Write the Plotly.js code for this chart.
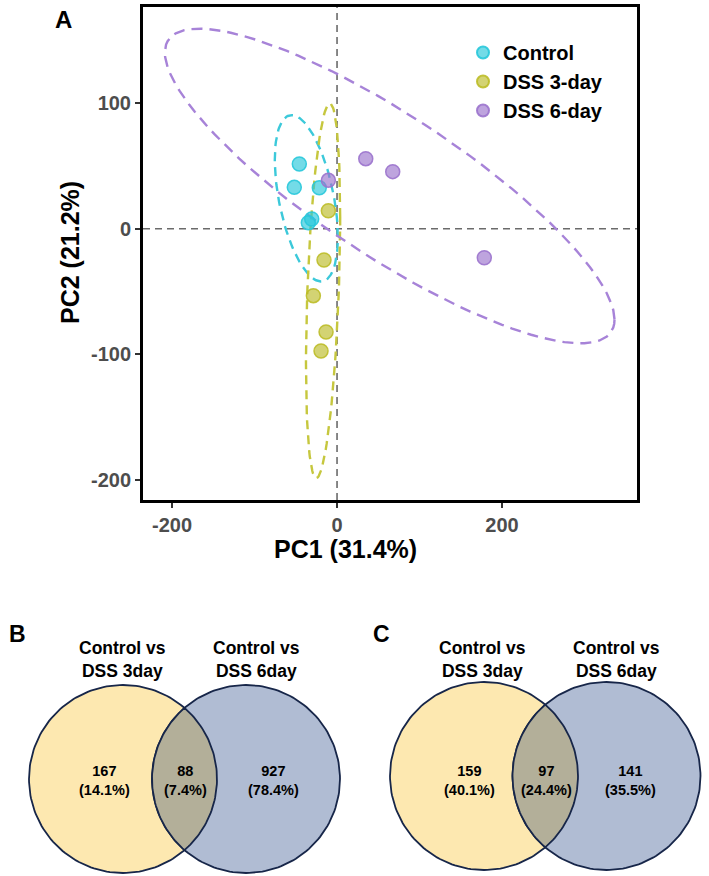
<!DOCTYPE html>
<html><head><meta charset="utf-8">
<script src="https://cdn.plot.ly/plotly-3.0.1.min.js"></script>
<style>html,body{margin:0;padding:0;background:#fff}#chart{width:709px;height:876px}</style>
</head><body><div id="chart"></div>
<script>
// ---- Panel A data (PCA scores) ----
const groups = ['Control', 'DSS 3-day', 'DSS 6-day'];
const controlPC1 = [-45.7, -51.8, -21.5, -30.7, -34.8];
const controlPC2 = [51.5, 32.9, 32.6, 7.7, 4.8];
const dss3PC1 = [-10.5, -15.8, -28.7, -13.3, -19.4];
const dss3PC2 = [14.3, -24.9, -53.3, -82.2, -97.3];
const dss6PC1 = [34.8, 67.5, -10.5, 178.5];
const dss6PC2 = [55.7, 45.4, 38.5, -23.1];
const xTicks = [-200, 0, 200];
const xTickLabels = ['-200', '0', '200'];
const yTicks = [-200, -100, 0, 100];
const yTickLabels = ['-200', '-100', '0', '100'];
const xTitle = 'PC1 (31.4%)';
const yTitle = 'PC2 (21.2%)';

// ---- Panels B and C data (Venn counts) ----
const vennSetLabels = ['Control vs<br>DSS 3day', 'Control vs<br>DSS 6day'];
const vennBCounts = [167, 88, 927];
const vennBPct = ['14.1%', '7.4%', '78.4%'];
const vennCCounts = [159, 97, 141];
const vennCPct = ['40.1%', '24.4%', '35.5%'];

// ---- styles ----
const W = 709, H = 876;
const FONT = 'Liberation Sans, Arial, Helvetica, sans-serif';
const pointFill = ['rgba(40,200,218,0.65)', 'rgba(188,188,40,0.65)', 'rgba(155,115,205,0.65)'];
const pointLine = ['rgba(40,200,218,0.9)', 'rgba(188,188,40,0.9)', 'rgba(155,115,205,0.9)'];
const ellColor = ['#3CC9DA', '#C6C73E', '#A783D8'];

// ggplot2 stat_ellipse (type "t"): MASS::cov.trob + F-based radius
function covTrob(xs, ys, nu, maxit, tol) {
  nu = nu || 5; maxit = maxit || 25; tol = tol || 0.01;
  const n = xs.length, p = 2;
  const sum = a => a.reduce((s, v) => s + v, 0);
  let loc = [sum(xs) / n, sum(ys) / n];
  let w = xs.map(() => 1);
  let X = [];
  for (let it = 0; it < maxit; it++) {
    const w0 = w.slice();
    X = xs.map((x, i) => [x - loc[0], ys[i] - loc[1]]);
    const sw = sum(w);
    let a = 0, b = 0, c = 0;
    X.forEach((r, i) => { const f = w[i] / sw; a += f * r[0] * r[0]; b += f * r[0] * r[1]; c += f * r[1] * r[1]; });
    const det = a * c - b * b;
    const Q = X.map(r => (c * r[0] * r[0] - 2 * b * r[0] * r[1] + a * r[1] * r[1]) / det);
    w = Q.map(q => (nu + p) / (nu + q));
    const sw2 = sum(w);
    loc = [sum(xs.map((x, i) => w[i] * x)) / sw2, sum(ys.map((y, i) => w[i] * y)) / sw2];
    if (w.every((v, i) => Math.abs(v - w0[i]) < tol)) break;
  }
  let s11 = 0, s12 = 0, s22 = 0;
  X.forEach((r, i) => { s11 += w[i] * r[0] * r[0]; s12 += w[i] * r[0] * r[1]; s22 += w[i] * r[1] * r[1]; });
  return { center: loc, cov: [s11 / n, s12 / n, s22 / n] };
}
function ellipse(xs, ys, level) {
  const n = xs.length, d2 = n - 1;
  const qf = (d2 / 2) * (Math.pow(1 - level, -2 / d2) - 1);
  const radius = Math.sqrt(2 * qf);
  const v = covTrob(xs, ys);
  const r11 = Math.sqrt(v.cov[0]), r12 = v.cov[1] / r11, r22 = Math.sqrt(v.cov[2] - r12 * r12);
  const ex = [], ey = [];
  const seg = 120;
  for (let k = 0; k <= seg; k++) {
    const t = 2 * Math.PI * k / seg, cs = Math.cos(t), sn = Math.sin(t);
    ex.push(v.center[0] + radius * cs * r11);
    ey.push(v.center[1] + radius * (cs * r12 + sn * r22));
  }
  return { x: ex, y: ey };
}

const groupX = [controlPC1, dss3PC1, dss6PC1];
const groupY = [controlPC2, dss3PC2, dss6PC2];
const ellDash = ['9px,6px', '9px,6px', '11px,7px'];

const traces = [];
groups.forEach((g, i) => {
  const e = ellipse(groupX[i], groupY[i], 0.95);
  traces.push({ type: 'scatter', mode: 'lines', x: e.x, y: e.y, xaxis: 'x', yaxis: 'y',
    line: { color: ellColor[i], width: 2.4, dash: ellDash[i] }, showlegend: false, hoverinfo: 'skip' });
});
groups.forEach((g, i) => {
  traces.push({ type: 'scatter', mode: 'markers', name: g, x: groupX[i], y: groupY[i], xaxis: 'x', yaxis: 'y',
    marker: { size: 14, color: pointFill[i], line: { color: pointLine[i], width: 1.5 } } });
});

// ---- Venn geometry (pixel-like coordinates on hidden axes x2/y2) ----
const vennPanels = [
  { letter: 'B', cx: [123, 246], cy: 779, r: 94, letterPos: [17, 634], setLabelX: [122, 256], numX: [104, 185, 273],
    counts: vennBCounts, pct: vennBPct },
  { letter: 'C', cx: [484, 606.5], cy: 776, r: 94, letterPos: [381, 634], setLabelX: [482, 616], numX: [469, 546, 630],
    counts: vennCCounts, pct: vennCPct }
];
const vennFill = ['#FDE8B0', '#B0BCD3', '#B3AF99'];
const vennLine = '#172649';
function circle(cx, cy, r) {
  const xs = [], ys = [];
  for (let k = 0; k <= 180; k++) { const t = 2 * Math.PI * k / 180; xs.push(cx + r * Math.cos(t)); ys.push(cy + r * Math.sin(t)); }
  return { x: xs, y: ys };
}
function lens(c1, c2, cy, r) {
  const d = c2 - c1, al = Math.acos((d / 2) / r);
  const xs = [], ys = [];
  for (let k = 0; k <= 60; k++) { const t = -al + 2 * al * k / 60; xs.push(c1 + r * Math.cos(t)); ys.push(cy + r * Math.sin(t)); }
  for (let k = 0; k <= 60; k++) { const t = Math.PI - al + 2 * al * k / 60; xs.push(c2 + r * Math.cos(t)); ys.push(cy + r * Math.sin(t)); }
  return { x: xs, y: ys };
}
const annotations = [];
const bold = (size, color) => ({ family: FONT, size: size, color: color || '#000', weight: 'bold' });
vennPanels.forEach(p => {
  [0, 1].forEach(j => {
    const c = circle(p.cx[j], p.cy, p.r);
    traces.push({ type: 'scatter', mode: 'lines', x: c.x, y: c.y, xaxis: 'x2', yaxis: 'y2', fill: 'toself',
      fillcolor: vennFill[j], line: { color: vennLine, width: 1.8 }, showlegend: false, hoverinfo: 'skip' });
  });
  const l = lens(p.cx[0], p.cx[1], p.cy, p.r);
  traces.push({ type: 'scatter', mode: 'lines', x: l.x, y: l.y, xaxis: 'x2', yaxis: 'y2', fill: 'toself',
    fillcolor: vennFill[2], line: { color: vennLine, width: 1.8 }, showlegend: false, hoverinfo: 'skip' });
  annotations.push({ xref: 'x2', yref: 'y2', x: p.letterPos[0], y: p.letterPos[1], text: p.letter, showarrow: false,
    font: bold(23), xanchor: 'center', yanchor: 'middle' });
  vennSetLabels.forEach((s, j) => annotations.push({ xref: 'x2', yref: 'y2', x: p.setLabelX[j], y: 659, text: s,
    showarrow: false, font: bold(17.5), xanchor: 'center', yanchor: 'middle' }));
  p.counts.forEach((cnt, j) => annotations.push({ xref: 'x2', yref: 'y2', x: p.numX[j], y: 780,
    text: cnt + '<br>(' + p.pct[j] + ')', showarrow: false, font: bold(14.5), xanchor: 'center', yanchor: 'middle' }));
});

annotations.push({ xref: 'paper', yref: 'paper', x: 63 / W, y: 1 - 19 / H, text: 'A', showarrow: false,
  font: bold(24), xanchor: 'center', yanchor: 'middle' });
annotations.push({ xref: 'paper', yref: 'paper', x: 345 / W, y: 1 - 549 / H, text: xTitle, showarrow: false,
  font: bold(25), xanchor: 'center', yanchor: 'middle' });
annotations.push({ xref: 'paper', yref: 'paper', x: 70 / W, y: 1 - 253 / H, text: yTitle, showarrow: false,
  font: bold(25), textangle: -90, xanchor: 'center', yanchor: 'middle' });

const axisCommon = { ticks: 'outside', ticklen: 5, tickwidth: 2, tickcolor: '#333', showline: true, linewidth: 3,
  linecolor: '#000', mirror: true, showgrid: false, zeroline: false, fixedrange: true,
  tickfont: bold(20, '#4D4D4D') };

const layout = {
  width: W, height: H, margin: { l: 0, r: 0, t: 0, b: 0 },
  paper_bgcolor: '#fff', plot_bgcolor: 'rgba(0,0,0,0)',
  font: { family: FONT, color: '#000' },
  xaxis: Object.assign({}, axisCommon, { domain: [143 / W, 637 / W], range: [-235.2, 363.6], tickvals: xTicks, ticktext: xTickLabels, anchor: 'y' }),
  yaxis: Object.assign({}, axisCommon, { domain: [1 - 500 / H, 1 - 7 / H], range: [-215.9, 176.4], tickvals: yTicks, ticktext: yTickLabels, anchor: 'x' }),
  xaxis2: { domain: [0, 1], range: [0, W], visible: false, anchor: 'y2', fixedrange: true },
  yaxis2: { domain: [0, 276 / H], range: [H, H - 276], visible: false, anchor: 'x2', fixedrange: true },
  showlegend: true,
  legend: { x: 463 / W, y: 1 - 33 / H, xanchor: 'left', yanchor: 'top', bgcolor: 'rgba(0,0,0,0)',
    font: bold(20), itemsizing: 'constant', tracegroupgap: 0 },
  shapes: [
    { type: 'line', xref: 'x domain', yref: 'y', x0: 0, x1: 1, y0: 0, y1: 0, layer: 'below',
      line: { color: '#6B6B6B', width: 1.6, dash: '7px,5px' } },
    { type: 'line', xref: 'x', yref: 'y domain', x0: 0, x1: 0, y0: 0, y1: 1, layer: 'below',
      line: { color: '#6B6B6B', width: 1.6, dash: '7px,5px' } }
  ],
  annotations: annotations
};

Plotly.newPlot('chart', traces, layout, { displayModeBar: false, staticPlot: true });
</script></body></html>
